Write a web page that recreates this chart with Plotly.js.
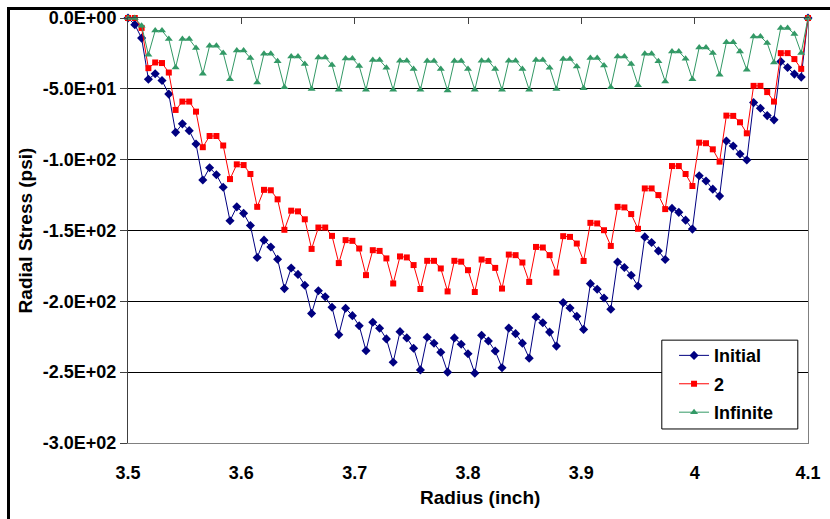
<!DOCTYPE html>
<html>
<head>
<meta charset="utf-8">
<script src="https://cdn.plot.ly/plotly-3.0.1.min.js"></script>
<style>
  html, body { margin: 0; padding: 0; background: #fff; }
  #wrap { position: relative; width: 830px; height: 519px; overflow: hidden; }
  #chart { position: absolute; left: 0; top: 0; width: 830px; height: 519px; }
  #frame { position: absolute; left: 7px; top: 7px; width: 900px; height: 600px;
           border-left: 3px solid #000; border-top: 3px solid #000; pointer-events: none; }
</style>
</head>
<body>
<div id="wrap"><div id="chart"></div><div id="frame"></div></div>
<script>
const radius = [3.5, 3.506, 3.512, 3.518, 3.524, 3.53, 3.536, 3.542, 3.548, 3.554, 3.56, 3.566, 3.572, 3.578, 3.584, 3.59, 3.596, 3.602, 3.608, 3.614, 3.62, 3.626, 3.632, 3.638, 3.644, 3.65, 3.656, 3.662, 3.668, 3.674, 3.68, 3.686, 3.692, 3.698, 3.704, 3.71, 3.716, 3.722, 3.728, 3.734, 3.74, 3.746, 3.752, 3.758, 3.764, 3.77, 3.776, 3.782, 3.788, 3.794, 3.8, 3.806, 3.812, 3.818, 3.824, 3.83, 3.836, 3.842, 3.848, 3.854, 3.86, 3.866, 3.872, 3.878, 3.884, 3.89, 3.896, 3.902, 3.908, 3.914, 3.92, 3.926, 3.932, 3.938, 3.944, 3.95, 3.956, 3.962, 3.968, 3.974, 3.98, 3.986, 3.992, 3.998, 4.004, 4.01, 4.016, 4.022, 4.028, 4.034, 4.04, 4.046, 4.052, 4.058, 4.064, 4.07, 4.076, 4.082, 4.088, 4.094, 4.1];

const initialStress = [0, -4.7, -14.2, -43.2, -39.4, -44.1, -53.7, -80.7, -74.7, -79.5, -88.9, -114.4, -105.7, -110.6, -119.5, -143.1, -133.3, -137.9, -146.5, -169.1, -156.8, -161.6, -170.3, -191, -176.5, -181, -188.6, -208.5, -192.5, -196.8, -204.2, -223.5, -204.9, -210.1, -217.2, -234.8, -214.8, -219, -226.5, -243, -221.4, -225.8, -233.1, -248.4, -225.4, -229.6, -235.9, -250, -225.8, -230.3, -237, -250.7, -224, -228, -235.1, -246.9, -218.9, -222.8, -229.5, -240.1, -211.1, -215.1, -221.7, -231.6, -200.9, -204.7, -210.6, -219.8, -187.5, -191.5, -197.6, -205.6, -172.2, -176.1, -181.6, -189.2, -154.5, -158.5, -164.4, -170.5, -134.4, -137.2, -142.7, -149, -111.3, -115.1, -120.8, -125.7, -86.8, -90.3, -96, -100.2, -59.7, -63.7, -68.9, -71.9, -30.7, -34.9, -39.6, -41.7, 0];

const stress2 = [0, 0, -7, -35.4, -31.4, -31.8, -38.5, -64.9, -59, -59, -66.1, -91.2, -83.3, -83.3, -90, -113.7, -103.3, -103.8, -110.1, -133.3, -121.3, -121.6, -128, -149.5, -136, -136.5, -142.1, -163, -147.9, -147.9, -153.8, -173, -156.8, -157.3, -162.7, -181.5, -163.9, -164.4, -169.7, -187.4, -168.3, -169, -174.4, -191.3, -171.4, -171.4, -176.8, -193, -171.4, -172, -178, -193.4, -170.5, -171.5, -176.4, -191, -167, -167.4, -172.6, -186.3, -161.6, -162, -167.4, -179.7, -154, -154.5, -159.2, -171.5, -144.6, -145, -149.8, -160.9, -133.3, -133.7, -138.4, -148.8, -120.3, -120.3, -125, -134.9, -104.5, -104.5, -110.1, -118.6, -88, -88.4, -92.7, -101.4, -68.9, -69.1, -73.6, -81.4, -47.9, -47.9, -52.3, -59, -24.8, -24.8, -29, -35.9, 0];

const stressInfinite = [0, 0, -5.4, -25.9, -8.9, -8.9, -14.9, -35, -14.9, -14.9, -21.2, -39.4, -19.6, -19.6, -24.7, -43.2, -22.9, -22.9, -28.3, -45.5, -25.2, -25.2, -30.6, -48.8, -27.1, -27.1, -32.5, -50.2, -27.8, -27.8, -33.2, -50.7, -28.5, -28.5, -33.9, -50.7, -29.7, -29.7, -35.1, -50.7, -30.1, -30.1, -36, -50.7, -30.4, -30.4, -36, -51.2, -30.4, -30.4, -36, -50.7, -30.2, -30.2, -36, -50.7, -30.2, -30.2, -36, -50.7, -29.7, -29.7, -35.1, -50.2, -29, -29, -34.2, -49.5, -28.3, -28.3, -33.5, -48.8, -27.1, -27.1, -32.5, -47.4, -25.2, -25.2, -30.6, -44.8, -23.6, -23.6, -28.8, -43.2, -20.8, -20.8, -24.7, -40.1, -17.2, -17.2, -23.6, -36.5, -13, -13, -17.7, -31.4, -7, -7, -11.3, -24.7, 0];

const seriesNames = ['Initial', '2', 'Infinite'];
const xTickVals = [3.5, 3.6, 3.7, 3.8, 3.9, 4.0, 4.1];
const xTickText = ['3.5', '3.6', '3.7', '3.8', '3.9', '4', '4.1'];
const yTickVals = [0, -50, -100, -150, -200, -250, -300];
const yTickText = ['0.0E+00', '-5.0E+01', '-1.0E+02', '-1.5E+02', '-2.0E+02', '-2.5E+02', '-3.0E+02'];

const FONT = 'Liberation Sans, Arial, sans-serif';

const traces = [
  { x: radius, y: initialStress, name: seriesNames[0], type: 'scatter', mode: 'lines+markers',
    line: { color: '#000080', width: 1 }, marker: { symbol: 'diamond', size: 7, color: '#000080' },
    cliponaxis: false, legendgroup: 'a' },
  { x: radius, y: stress2, name: seriesNames[1], type: 'scatter', mode: 'lines+markers',
    line: { color: '#FF0000', width: 1 }, marker: { symbol: 'square', size: 6, color: '#FF0000' },
    cliponaxis: false, legendgroup: 'b' },
  { x: radius, y: stressInfinite, name: seriesNames[2], type: 'scatter', mode: 'lines+markers',
    line: { color: '#339966', width: 1 }, marker: { symbol: 'triangle-up', size: 7, color: '#339966' },
    cliponaxis: false, legendgroup: 'c' }
];

const layout = {
  width: 830, height: 519,
  paper_bgcolor: '#fff', plot_bgcolor: '#fff',
  margin: { l: 128, r: 22, t: 18, b: 76, pad: 0 },
  font: { family: FONT, size: 18, color: '#000', weight: 'bold' },
  showlegend: true,
  legend: {
    x: 0.803, xanchor: 'left', y: 0.249, yanchor: 'top',
    bgcolor: 'rgba(0,0,0,0)', borderwidth: 0,
    font: { family: FONT, size: 18, color: '#000', weight: 'bold' },
    tracegroupgap: 2, itemwidth: 30
  },
  shapes: [
    { type: 'rect', xref: 'paper', yref: 'paper', x0: 0.785, x1: 0.985, y0: 0.033, y1: 0.242,
      line: { color: '#000', width: 1 }, fillcolor: '#fff', layer: 'above' }
  ],
  annotations: [
    { text: 'Radius (inch)', xref: 'paper', yref: 'paper', x: 0.518, y: -0.128,
      xanchor: 'center', yanchor: 'middle', showarrow: false,
      font: { family: FONT, size: 19, color: '#000', weight: 'bold' } }
  ],
  xaxis: {
    range: [3.5, 4.1], tickmode: 'array', tickvals: xTickVals, ticktext: xTickText,
    showgrid: false, zeroline: false, ticks: '', showline: true, linecolor: '#808080', linewidth: 1,
    mirror: false, ticklabelstandoff: 13,
    tickfont: { family: FONT, size: 18, color: '#000', weight: 'bold' }
  },
  xaxis2: {
    range: [3.5, 4.1], overlaying: 'x', side: 'top', anchor: 'y', tickmode: 'array', tickvals: xTickVals,
    showticklabels: false, ticks: 'inside', ticklen: 6, tickcolor: '#404040', tickwidth: 1,
    showline: true, linecolor: '#404040', linewidth: 1, showgrid: false, zeroline: false
  },
  yaxis: {
    range: [-300, 0], tickmode: 'array', tickvals: yTickVals, ticktext: yTickText,
    showgrid: true, gridcolor: '#000', gridwidth: 1, zeroline: false,
    ticks: 'outside', ticklen: 7, tickcolor: '#404040', tickwidth: 1,
    showline: true, linecolor: '#404040', linewidth: 1,
    tickfont: { family: FONT, size: 18, color: '#000', weight: 'bold' },
    title: { text: 'Radial Stress (psi)', font: { family: FONT, size: 19, color: '#000', weight: 'bold' }, standoff: 5 }
  },
  yaxis2: {
    range: [-300, 0], overlaying: 'y', side: 'right', anchor: 'x', showticklabels: false,
    ticks: '', showline: true, linecolor: '#808080', linewidth: 1, showgrid: false, zeroline: false
  }
};

// invisible helper trace so the secondary (frame) axes are drawn
traces.push({ x: [3.5], y: [0], xaxis: 'x2', yaxis: 'y2', type: 'scatter', mode: 'markers',
  marker: { opacity: 0 }, showlegend: false, hoverinfo: 'skip' });

Plotly.newPlot('chart', traces, layout, { displayModeBar: false, staticPlot: true });
</script>
</body>
</html>
